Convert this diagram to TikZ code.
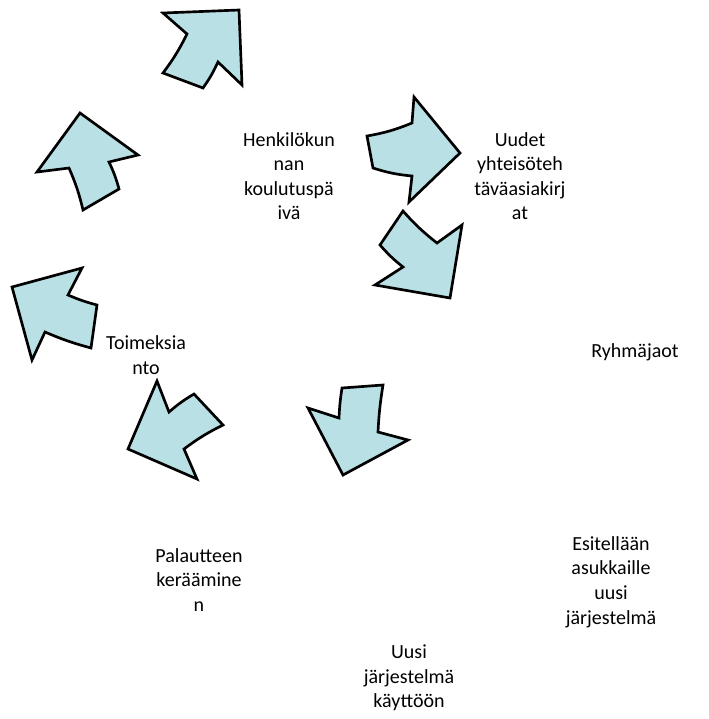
\documentclass[tikz,border=0pt]{standalone}
\usepackage{fontspec}
\setmainfont{Carlito}
\usetikzlibrary{positioning}

\definecolor{arrowblue}{RGB}{185,224,228}

\begin{document}
\begin{tikzpicture} [x=0.75pt, y=-0.75pt,
    blockarrow/.style={draw, line width=2pt, line join=miter, fill=arrowblue},
    steplabel/.style={align=center, inner sep=0pt, font=\fontsize{15}{18.4}\selectfont}]
    \useasboundingbox (0,0) rectangle (709,719);

    % arrows
    \draw [blockarrow] (239,10) -- (242,85) -- (218,62) to[bend left=5] (203,88)
        -- (163,73) to[bend right=5] (187,34) -- (163,13) -- cycle;
    \draw [blockarrow] (80,113) -- (138,155) -- (109,162) to[bend left=5] (119,189)
        -- (83,210) to[bend right=5] (69,168) -- (37,172) -- cycle;
    \draw [blockarrow] (12,287) -- (82,268) -- (68,295) to[bend right=4] (97,305)
        -- (91,348) to[bend left=4] (45,332) -- (32,360) -- cycle;
    \draw [blockarrow] (128,449) -- (157,381) -- (169,412) to[bend left=5] (194,394)
        -- (223,425) to[bend right=5] (184,449) -- (197,479) -- cycle;
    \draw [blockarrow] (343,475) -- (308,408) -- (339,418) to[bend left=3] (342,388)
        -- (383,385) to[bend right=3] (378,432) -- (408,440) -- cycle;
    \draw [blockarrow] (460,153) -- (414,97) -- (412,123) to[bend left=6] (367,136)
        -- (373,168) to[bend right=6] (412,176) -- (409,202) -- cycle;
    \draw [blockarrow] (450,298) -- (462,225) -- (437,243) to[bend left=5] (403,211)
        -- (380,245) to[bend right=5] (403,267) -- (375,285) -- cycle;

    % steps
    \node (training) [steplabel] at (289,176) {Henkilökun\\nan\\koulutuspä\\ivä};
    \node (documents) [steplabel] at (520,176) {Uudet\\yhteisöteh\\täväasiakirj\\at};
    \node (groups) [steplabel] at (635,352) {Ryhmäjaot};
    \node (intro) [steplabel] at (611,582) {Esitellään\\asukkaille\\uusi\\järjestelmä};
    \node (deploy) [steplabel] at (409,678) {Uusi\\järjestelmä\\käyttöön};
    \node (feedback) [steplabel] at (199,580) {Palautteen\\keräämine\\n};
    \node (assignment) [steplabel] at (146,355) {Toimeksia\\nto};
\end{tikzpicture}
\end{document}
